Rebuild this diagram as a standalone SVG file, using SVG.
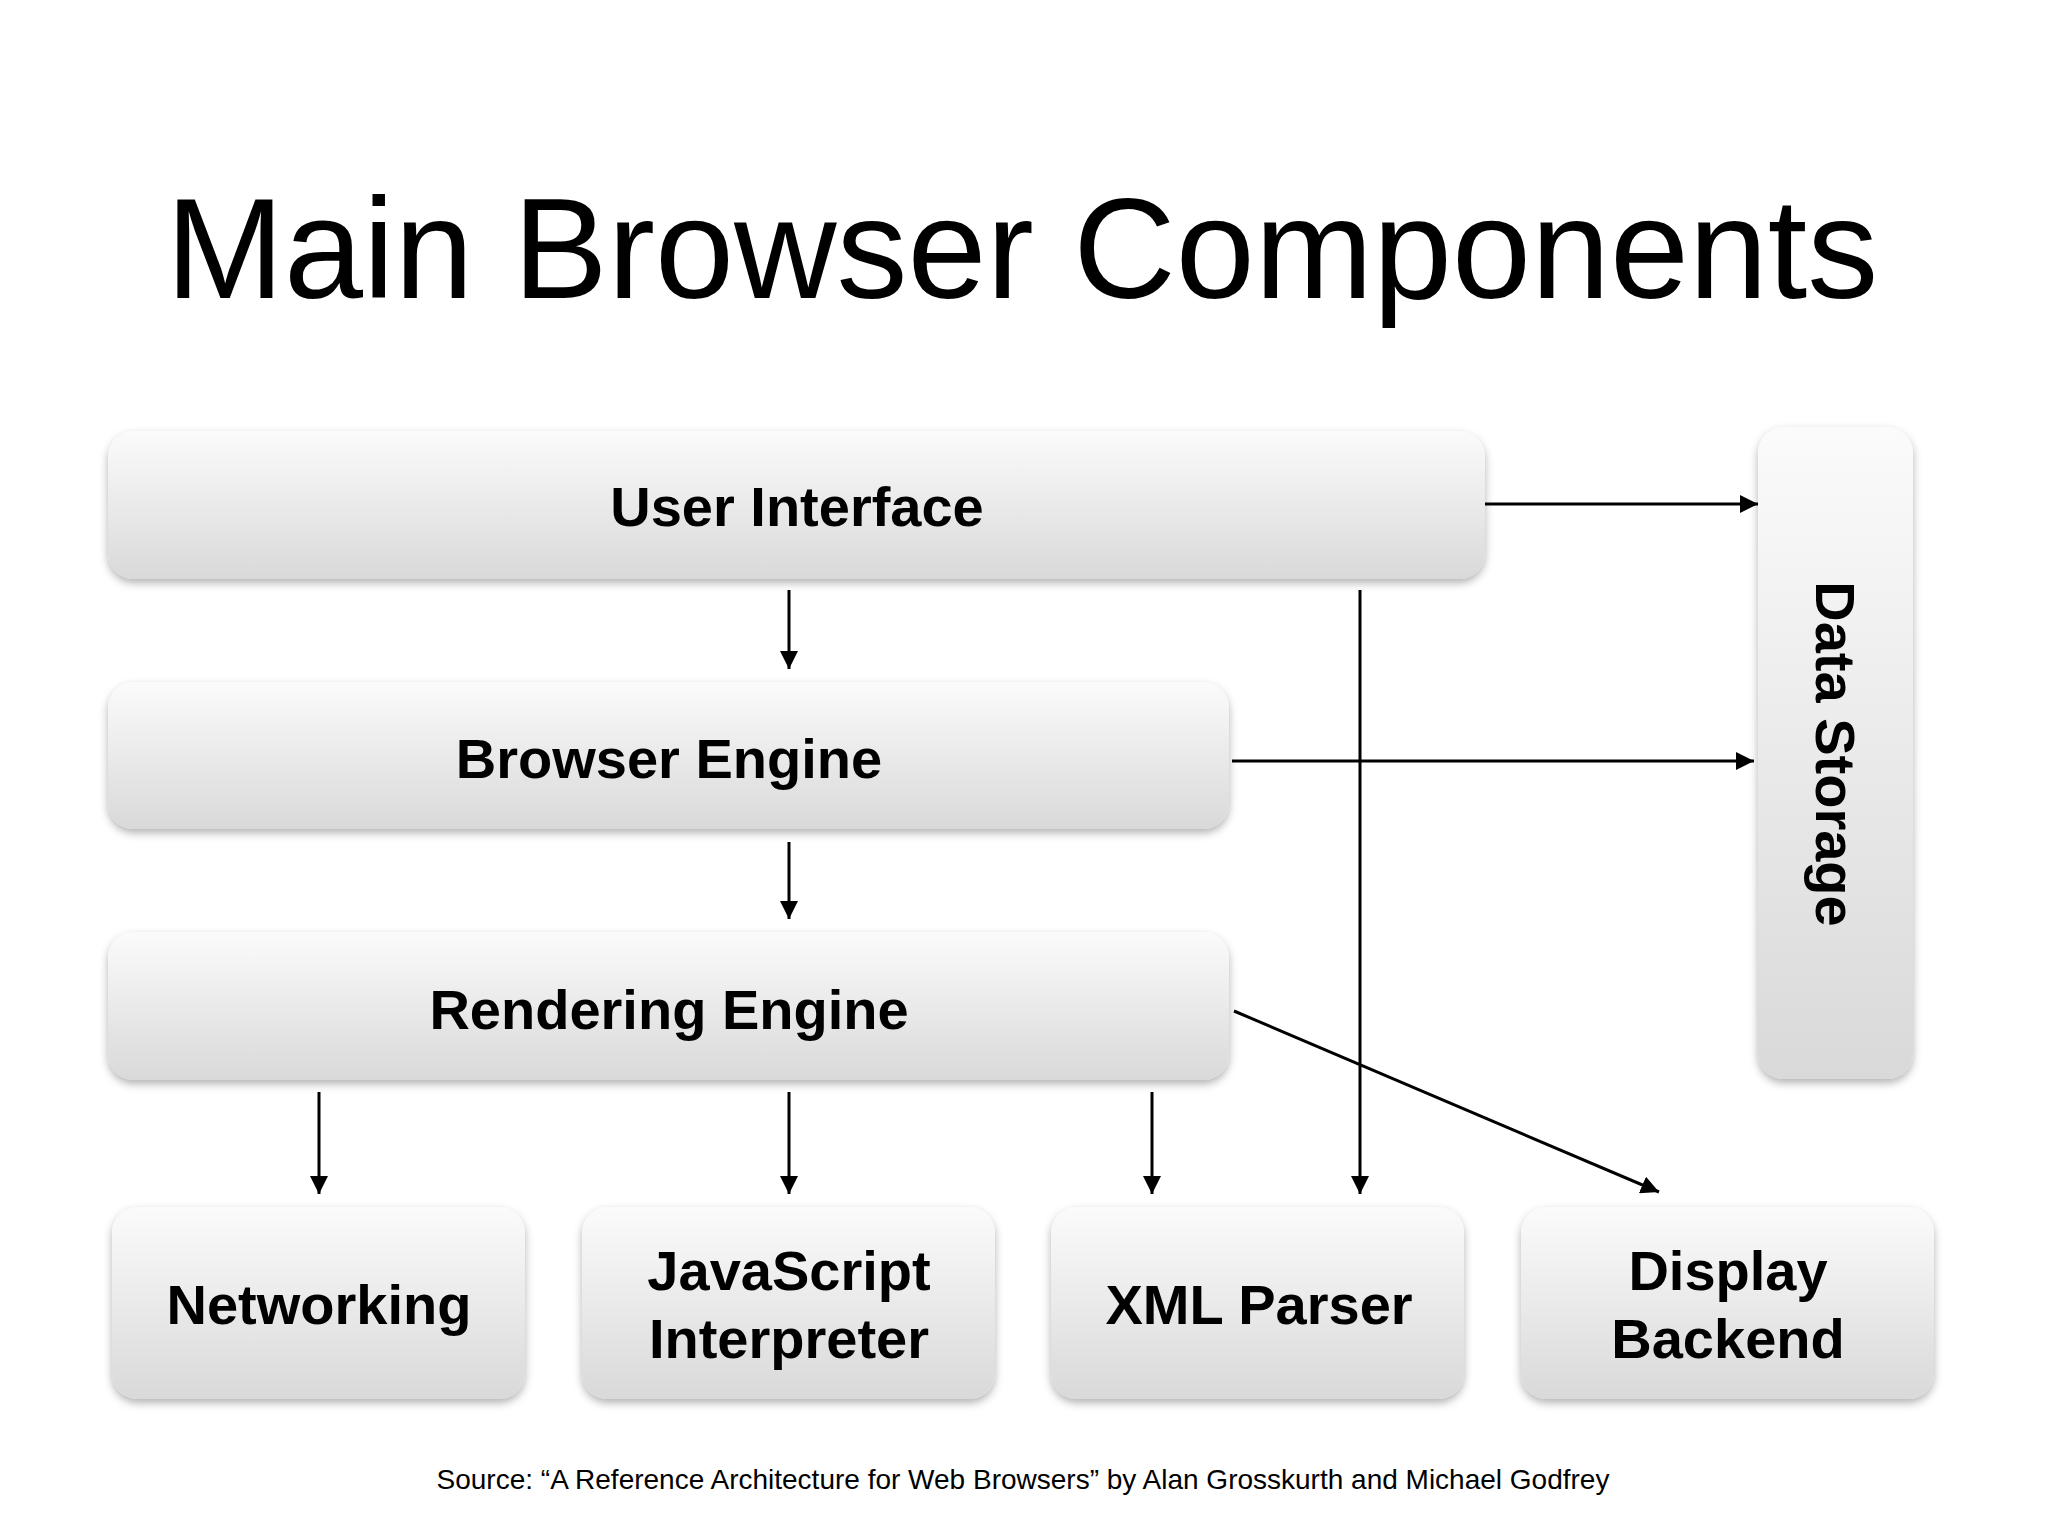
<svg xmlns="http://www.w3.org/2000/svg" width="2048" height="1536" viewBox="0 0 2048 1536">
<style>
.box{fill:url(#g);filter:url(#sh)}
.lbl{font-family:"Liberation Sans",Arial,sans-serif;font-weight:bold;font-size:56px;fill:#000;text-anchor:middle}
.c line{stroke:#000;stroke-width:3;marker-end:url(#ah)}
</style>
<defs>
<linearGradient id="g" x1="0" y1="0" x2="0" y2="1"><stop offset="0" stop-color="#fbfbfb"/><stop offset="1" stop-color="#d9d9d9"/></linearGradient>
<filter id="sh" x="-10%" y="-10%" width="120%" height="130%"><feDropShadow dx="0" dy="4" stdDeviation="4" flood-color="#000" flood-opacity="0.3"/></filter>
<marker id="ah" viewBox="0 0 10 10" refX="10" refY="5" markerWidth="6" markerHeight="6" orient="auto" markerUnits="strokeWidth"><path d="M0,0L10,5L0,10z" fill="#000"/></marker>
</defs>
<rect width="2048" height="1536" fill="#fff"/>
<text x="1022" y="298" font-family="Liberation Sans,Arial,sans-serif" font-size="142" text-anchor="middle">Main Browser Components</text>
<g id="ui"><rect class="box" x="108" y="431" width="1377" height="148" rx="26"/><text class="lbl" x="797" y="526">User Interface</text></g>
<g id="be"><rect class="box" x="108" y="682" width="1121" height="147" rx="26"/><text class="lbl" x="669" y="778">Browser Engine</text></g>
<g id="re"><rect class="box" x="108" y="932" width="1121" height="148" rx="26"/><text class="lbl" x="669" y="1029">Rendering Engine</text></g>
<g id="ds"><rect class="box" x="1758" y="427" width="155" height="652" rx="26"/><text class="lbl" transform="translate(1835,754) rotate(90)" y="19">Data Storage</text></g>
<g id="net"><rect class="box" x="112" y="1207" width="413" height="192" rx="26"/><text class="lbl" x="319" y="1324">Networking</text></g>
<g id="js"><rect class="box" x="582" y="1207" width="413" height="192" rx="26"/><text class="lbl" x="789" y="1290">JavaScript</text><text class="lbl" x="789" y="1358">Interpreter</text></g>
<g id="xml"><rect class="box" x="1051" y="1207" width="413" height="192" rx="26"/><text class="lbl" x="1259" y="1324">XML Parser</text></g>
<g id="db"><rect class="box" x="1521" y="1207" width="413" height="192" rx="26"/><text class="lbl" x="1728" y="1290">Display</text><text class="lbl" x="1728" y="1358">Backend</text></g>
<g class="c" id="connectors">
<line x1="1485" y1="504" x2="1758" y2="504"/>
<line x1="1232" y1="761" x2="1754" y2="761"/>
<line x1="789" y1="590" x2="789" y2="669"/>
<line x1="789" y1="842" x2="789" y2="919"/>
<line x1="319" y1="1092" x2="319" y2="1194"/>
<line x1="789" y1="1092" x2="789" y2="1194"/>
<line x1="1152" y1="1092" x2="1152" y2="1194"/>
<line x1="1360" y1="590" x2="1360" y2="1194"/>
<line x1="1234" y1="1011" x2="1659" y2="1192"/>
</g>
<text x="1023" y="1489" font-family="Liberation Sans,Arial,sans-serif" font-size="28" text-anchor="middle">Source: “A Reference Architecture for Web Browsers” by Alan Grosskurth and Michael Godfrey</text>
</svg>
